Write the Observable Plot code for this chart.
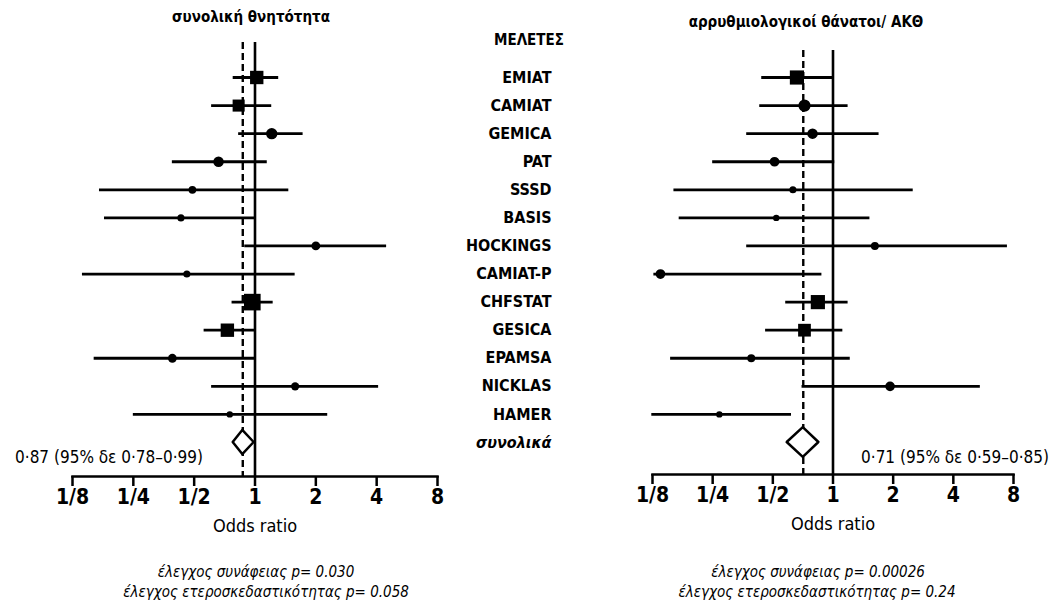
<!DOCTYPE html>
<html><head><meta charset="utf-8">
<script src="https://cdn.jsdelivr.net/npm/d3@7"></script>
<script src="https://cdn.jsdelivr.net/npm/@observablehq/plot@0.6"></script>
<style>
body{margin:0;background:#fff;}
#wrap{position:relative;width:1054px;height:614px;overflow:hidden;font-family:"Liberation Sans Narrow","DejaVu Sans Condensed","Liberation Sans",sans-serif;color:#000;}
#left{position:absolute;left:0;top:0;}
#right{position:absolute;left:560px;top:0;}
.t{position:absolute;white-space:nowrap;transform:translate(-50%,-50%);}
.title{font-weight:900;font-size:15px;}
.sum{font-size:17px;}
.cap{font-style:italic;font-size:15px;}
</style></head><body>
<div id="wrap">
  <div id="left"></div>
  <div id="right"></div>
  <div class="t title" id="t1" style="left:251px;top:17px"></div>
  <div class="t title" id="t2" style="left:806px;top:22px"></div>
  <div class="t title" id="t3" style="left:529px;top:40px"></div>
  <div class="t sum" id="s1" style="left:109px;top:457px"></div>
  <div class="t sum" id="s2" style="left:955px;top:457px"></div>
  <div class="t cap" id="c1" style="left:256px;top:572px"></div>
  <div class="t cap" id="c2" style="left:266px;top:592px"></div>
  <div class="t cap" id="c3" style="left:818px;top:572px"></div>
  <div class="t cap" id="c4" style="left:817px;top:592px"></div>
</div>
<script>
// ---- data ----
const studies = ["EMIAT","CAMIAT","GEMICA","PAT","SSSD","BASIS","HOCKINGS","CAMIAT-P","CHFSTAT","GESICA","EPAMSA","NICKLAS","HAMER"];
const overallLabel = "συνολικά";
const columnTitle = "ΜΕΛΕΤΕΣ";
const panelTitles = ["συνολική θνητότητα", "αρρυθμιολογικοί θάνατοι/ ΑΚΘ"];

// total mortality: odds ratio, 95% CI, weight (%)
const mortOR = [1.02, 0.83, 1.21, 0.66, 0.49, 0.43, 2.00, 0.46, 0.97, 0.73, 0.39, 1.58, 0.75];
const mortLo = [0.78, 0.61, 0.83, 0.39, 0.17, 0.18, 0.89, 0.14, 0.77, 0.56, 0.16, 0.61, 0.25];
const mortHi = [1.31, 1.21, 1.73, 1.15, 1.47, 1.01, 4.48, 1.58, 1.23, 1.00, 1.00, 4.09, 2.29];
const mortW  = [13, 10, 6.2, 5, 2, 1.5, 3, 1.5, 22, 13, 3, 2.5, 1];

// arrhythmic deaths / sudden cardiac death
const arrOR = [0.66, 0.72, 0.79, 0.51, 0.63, 0.52, 1.62, 0.137, 0.84, 0.72, 0.39, 1.93, 0.27];
const arrLo = [0.44, 0.43, 0.37, 0.25, 0.16, 0.17, 0.37, 0.127, 0.58, 0.46, 0.154, 0.70, 0.124];
const arrHi = [1.00, 1.19, 1.70, 1.02, 2.52, 1.53, 7.46, 0.88, 1.19, 1.12, 1.22, 5.46, 0.62];
const arrW  = [15, 7.5, 5, 4, 1.5, 1, 2.2, 4, 15, 11.5, 2.2, 4, 1];

const overallOR = [0.87, 0.71];
const overallLo = [0.78, 0.59];
const overallHi = [0.99, 0.85];
const summaryText = ["0·87 (95% δε 0·78–0·99)", "0·71 (95% δε 0·59–0·85)"];
const pAssoc = ["0.030", "0.00026"];
const pHetero = ["0.058", "0.24"];

const tickValues = [1/8, 1/4, 1/2, 1, 2, 4, 8];
const tickLabels = ["1/8", "1/4", "1/2", "1", "2", "4", "8"];
const xLabel = "Odds ratio";

// ---- build ----
const FONT = `"Liberation Sans Narrow","DejaVu Sans Condensed","Liberation Sans",sans-serif`;

function panel(k, OR, LO, HI, W, opts) {
  const rows = studies.map((s, i) => ({study: s, i, or: OR[i], lo: LO[i], hi: HI[i], w: W[i]}));
  const n = studies.length;
  const h = opts.dh;
  const diamond = [
    {y: n - h, x1: overallOR[k], x2: overallOR[k]},
    {y: n, x1: overallLo[k], x2: overallHi[k]},
    {y: n + h, x1: overallOR[k], x2: overallOR[k]}
  ];
  const marks = [
    Plot.ruleX([1], {strokeWidth: 2.6}),
    Plot.ruleX([overallOR[k]], {strokeWidth: 2.4, strokeDasharray: "7,4"}),
    Plot.ruleY(rows, {y: "i", x1: "lo", x2: "hi", strokeWidth: 2.8}),
    Plot.dot(rows, {x: "or", y: "i", r: "w", symbol: d => d.w >= 9 ? "square" : "circle", fill: "black", stroke: null}),
    Plot.areaX(diamond, {y: "y", x1: "x1", x2: "x2", fill: "white", stroke: "black", strokeWidth: 2.5}),
    Plot.frame({anchor: "bottom", strokeWidth: 2.5}),
    Plot.axisX({ticks: tickValues, tickFormat: d => tickLabels[tickValues.indexOf(d)], tickSize: 10, tickPadding: 3,
      fontSize: 21, fontWeight: "bold", strokeWidth: 2.5, label: null}),
    Plot.text([xLabel], {frameAnchor: "bottom", dy: 55, fontSize: 18})
  ];
  if (opts.labels) {
    const labRows = studies.map((s, i) => ({label: s, i, ov: false})).concat([{label: overallLabel, i: n, ov: true}]);
    marks.push(Plot.text(labRows.filter(d => !d.ov), {y: "i", text: "label", frameAnchor: "right", dx: 114, textAnchor: "end", fontWeight: "bold", fontSize: 16}));
    marks.push(Plot.text(labRows.filter(d => d.ov), {y: "i", text: "label", frameAnchor: "right", dx: 114, textAnchor: "end", fontWeight: "bold", fontStyle: "italic", fontSize: 16}));
  }
  return Plot.plot({
    width: opts.width, height: 545,
    marginLeft: opts.mL, marginRight: opts.mR, marginTop: opts.mT, marginBottom: opts.mB,
    style: {fontFamily: FONT, background: "transparent", overflow: "visible", color: "black"},
    x: {type: "log", base: 2, domain: [1/8, 8]},
    y: {type: "linear", domain: [0, n], range: [77, 442], axis: null},
    r: {type: "sqrt", domain: [0, 20], range: [1.5, 9]},
    marks
  });
}

document.getElementById("left").appendChild(panel(0, mortOR, mortLo, mortHi, mortW,
  {width: 560, mL: 72, mR: 123, mT: 42, mB: 69, dh: 0.43, labels: true}));
document.getElementById("right").appendChild(panel(1, arrOR, arrLo, arrHi, arrW,
  {width: 494, mL: 92, mR: 41, mT: 50, mB: 71, dh: 0.53, labels: false}));

document.getElementById("t1").textContent = panelTitles[0];
document.getElementById("t2").textContent = panelTitles[1];
document.getElementById("t3").textContent = columnTitle;
document.getElementById("s1").textContent = summaryText[0];
document.getElementById("s2").textContent = summaryText[1];
document.getElementById("c1").textContent = "έλεγχος συνάφειας p= " + pAssoc[0];
document.getElementById("c2").textContent = "έλεγχος ετεροσκεδαστικότητας p= " + pHetero[0];
document.getElementById("c3").textContent = "έλεγχος συνάφειας p= " + pAssoc[1];
document.getElementById("c4").textContent = "έλεγχος ετεροσκεδαστικότητας p= " + pHetero[1];
</script>
</body></html>
